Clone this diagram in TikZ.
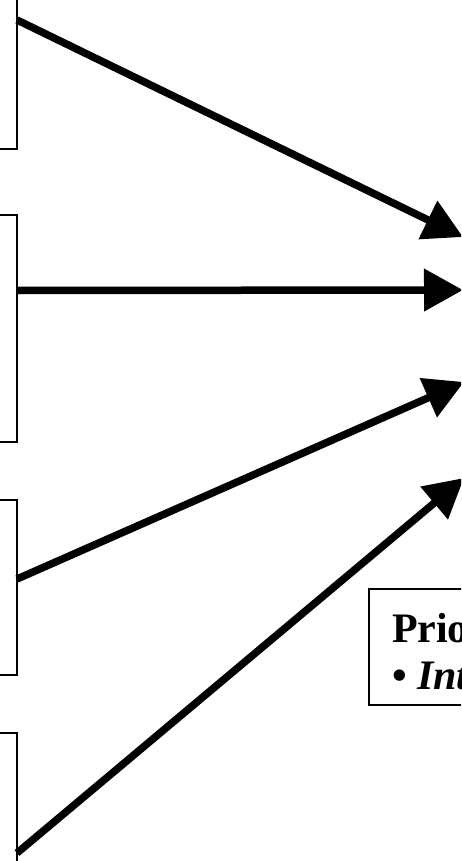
\documentclass[tikz,border=0pt]{standalone}
\usepackage{fontspec}
\setmainfont{Liberation Serif}
\usetikzlibrary{arrows.meta}
\begin{document}
\begin{tikzpicture}[x=1pt,y=-1pt,
  srcbox/.style={draw=black, line width=2.3pt, outer sep=0pt, inner sep=0pt, minimum width=300pt},
  arr/.style={line width=7.5pt, -{Triangle[length=39pt,width=41pt]}},
  txt/.style={inner sep=0pt, outer sep=0pt, font=\fontsize{42}{46}\selectfont\bfseries}]
\useasboundingbox (0,0) rectangle (461,861);
\clip (0,0) rectangle (461,861);
% source boxes (only their right parts are visible)
\node[srcbox, minimum height=258pt, anchor=north east] (b1) at (17,-109) {};
\node[srcbox, minimum height=227pt, anchor=north east] (b2) at (17,215) {};
\node[srcbox, minimum height=175pt, anchor=north east] (b3) at (17,500) {};
\node[srcbox, minimum height=240pt, anchor=north east] (b4) at (17,733) {};
% arrow tips on the (off-picture) target
\coordinate (t1) at (463,237);
\coordinate (t2) at (463,290);
\coordinate (t3) at (464,382);
\coordinate (t4) at (464,478);
\draw[arr] (b1.east) -- (t1);
\draw[arr] ([yshift=38pt]b2.east) -- (t2);
\draw[arr] ([yshift=8.5pt]b3.east) -- (t3);
\draw[arr] (b4.east) -- (t4);
% text box
\node[draw=black, line width=2.3pt, outer sep=0pt, inner sep=0pt, minimum width=300pt, minimum height=116pt, anchor=north west] (prio) at (369,589) {};
\node[txt, anchor=base west] (p1) at ([xshift=23pt,yshift=-53pt]prio.north west) {Prio};
\node[txt, anchor=base west] (p2) at ([yshift=-47pt]p1.base west) {• \textit{Int}};
\end{tikzpicture}
\end{document}
